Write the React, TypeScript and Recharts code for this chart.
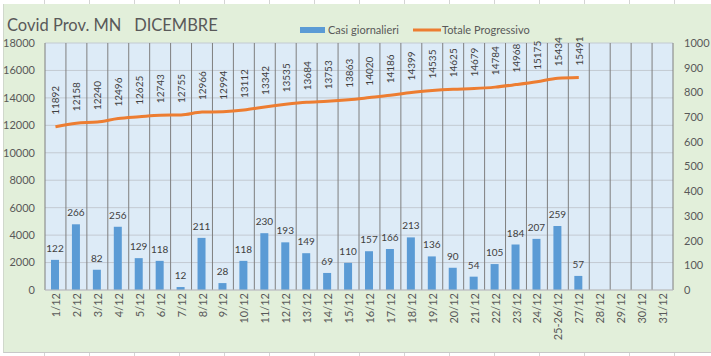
import React from "react";
import {
  ComposedChart,
  Bar,
  Line,
  XAxis,
  YAxis,
  CartesianGrid,
  LabelList,
} from "recharts";

const categories = [
  "1/12", "2/12", "3/12", "4/12", "5/12", "6/12", "7/12", "8/12", "9/12", "10/12",
  "11/12", "12/12", "13/12", "14/12", "15/12", "16/12", "17/12", "18/12", "19/12", "20/12",
  "21/12", "22/12", "23/12", "24/12", "25-26/12", "27/12", "28/12", "29/12", "30/12", "31/12",
];

const casiGiornalieri = [
  122, 266, 82, 256, 129, 118, 12, 211, 28, 118,
  230, 193, 149, 69, 110, 157, 166, 213, 136, 90,
  54, 105, 184, 207, 259, 57,
];

const totaleProgressivo = [
  11892, 12158, 12240, 12496, 12625, 12743, 12755, 12966, 12994, 13112,
  13342, 13535, 13684, 13753, 13863, 14020, 14186, 14399, 14535, 14625,
  14679, 14784, 14968, 15175, 15434, 15491,
];

const leftTicks = [0, 2000, 4000, 6000, 8000, 10000, 12000, 14000, 16000, 18000];
const rightTicks = [0, 100, 200, 300, 400, 500, 600, 700, 800, 900, 1000];

const title = "Covid Prov. MN   DICEMBRE";
const barName = "Casi giornalieri";
const lineName = "Totale Progressivo";

const data = categories.map((c, i) => ({
  cat: c,
  casi: i < casiGiornalieri.length ? casiGiornalieri[i] : null,
  totale: i < totaleProgressivo.length ? totaleProgressivo[i] : null,
}));

const FONT = "Lato, 'Open Sans', sans-serif";
const TEXT = "#595959";
const BLUE = "#5B9BD5";
const ORANGE = "#ED7D31";

const XTick = (props: any) => {
  const { x, y, payload } = props;
  return (
    <text
      x={x}
      y={y}
      transform={`rotate(-90, ${x}, ${y})`}
      textAnchor="end"
      dominantBaseline="central"
      fontSize={11}
      fontFamily={FONT}
      fill={TEXT}
    >
      {payload.value}
    </text>
  );
};

const LineLabel = (props: any) => {
  const { x, y, value } = props;
  if (value == null) return null;
  const ty = y - 12;
  return (
    <text
      x={x}
      y={ty}
      transform={`rotate(-90, ${x}, ${ty})`}
      textAnchor="start"
      dominantBaseline="central"
      fontSize={10}
      fontFamily={FONT}
      fill="#404040"
    >
      {value}
    </text>
  );
};

const vGen = ({ offset }: any) => {
  const n = categories.length;
  const out: number[] = [];
  for (let i = 0; i <= n; i++) out.push(offset.left + (offset.width * i) / n);
  return out;
};

export default function App() {
  return (
    <div
      style={{
        position: "fixed",
        left: 0,
        top: 0,
        width: 711,
        height: 356,
        background: "#ffffff",
        overflow: "hidden",
      }}
    >
      <div
        style={{
          position: "absolute",
          left: 0,
          top: 0,
          width: 711,
          height: 356,
          backgroundImage:
            "repeating-linear-gradient(90deg, transparent 0px, transparent 44px, #d4d4d4 44px, #d4d4d4 45px, transparent 45px, transparent 41.7px)",
        }}
      />
      <div
        style={{
          position: "absolute",
          left: 3,
          top: 4,
          width: 708,
          height: 348,
          background: "#E2EFDA",
          borderLeft: "1px solid #d0d8cc",
          borderBottom: "1px solid #c8c8c8",
        }}
      />
      <div style={{ position: "absolute", left: 0, top: 0 }}>
        <ComposedChart
          width={711}
          height={356}
          data={data}
          margin={{ top: 43, right: 0, bottom: 6, left: 0 }}
        >
          <CartesianGrid
            fill="#DDEBF7"
            fillOpacity={1}
            horizontal={true}
            vertical={false}
            stroke="#C3CAD2"
            strokeOpacity={1}
            yAxisId="left"
          />
          <CartesianGrid
            horizontal={false}
            vertical={true}
            verticalCoordinatesGenerator={vGen}
            stroke="#7F7F7F"
            strokeOpacity={1}
            yAxisId="left"
          />
          <XAxis
            dataKey="cat"
            interval={0}
            height={60}
            tickSize={0}
            tickMargin={3}
            tick={<XTick />}
            axisLine={{ stroke: "#BFBFBF" }}
            tickLine={false}
          />
          <YAxis
            yAxisId="left"
            orientation="left"
            domain={[0, 18000]}
            ticks={leftTicks}
            width={45}
            tickSize={0}
            tickMargin={10}
            axisLine={false}
            tickLine={false}
            tick={{ fontSize: 11, fontFamily: FONT, fill: TEXT }}
          />
          <YAxis
            yAxisId="right"
            orientation="right"
            domain={[0, 1000]}
            ticks={rightTicks}
            width={38}
            tickSize={0}
            tickMargin={11}
            axisLine={false}
            tickLine={false}
            tick={{ fontSize: 11, fontFamily: FONT, fill: TEXT, textAnchor: "start" }}
          />
          <Bar
            yAxisId="right"
            dataKey="casi"
            fill={BLUE}
            barSize={8}
            isAnimationActive={false}
          >
            <LabelList
              dataKey="casi"
              position="top"
              offset={8}
              fontSize={10}
              fontFamily={FONT}
              fill="#404040"
            />
          </Bar>
          <Line
            yAxisId="left"
            dataKey="totale"
            type="monotone"
            stroke={ORANGE}
            strokeWidth={3}
            dot={false}
            isAnimationActive={false}
            connectNulls={false}
          >
            <LabelList dataKey="totale" content={<LineLabel />} />
          </Line>
        </ComposedChart>
      </div>
      <svg
        width={711}
        height={356}
        style={{ position: "absolute", left: 0, top: 0, pointerEvents: "none" }}
      >
        <text
          x={7}
          y={31}
          fontSize={16.5}
          fontFamily={FONT}
          fill={TEXT}
          style={{ whiteSpace: "pre" }}
        >
          {title}
        </text>
        <rect x={300} y={27} width={25} height={6} fill={BLUE} />
        <text x={328} y={34} fontSize={11} fontFamily={FONT} fill={TEXT}>
          {barName}
        </text>
        <line x1={413} y1={30} x2={441} y2={30} stroke={ORANGE} strokeWidth={3} />
        <text x={442} y={34} fontSize={11} fontFamily={FONT} fill={TEXT}>
          {lineName}
        </text>
      </svg>
    </div>
  );
}
